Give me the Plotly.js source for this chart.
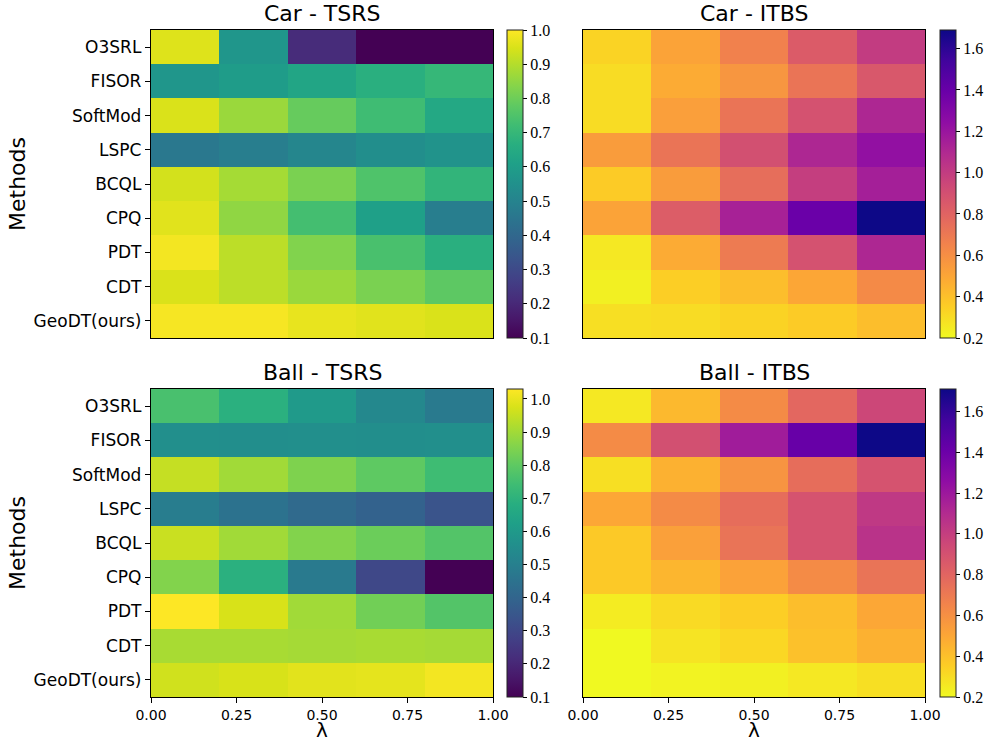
<!DOCTYPE html>
<html>
<head>
<meta charset="utf-8">
<script src="https://cdn.plot.ly/plotly-3.0.1.min.js"></script>
<style>html,body{margin:0;padding:0;background:#fff;}#chart{width:990px;height:744px;}</style>
</head>
<body>
<div id="chart"></div>
<script>
// ---- data ----
const methods = ["O3SRL","FISOR","SoftMod","LSPC","BCQL","CPQ","PDT","CDT","GeoDT(ours)"];
const lambdaCenters = [0.1, 0.3, 0.5, 0.7, 0.9];
const xTickVals = [0, 0.25, 0.5, 0.75, 1.0];
const xTickText = ["0.00","0.25","0.50","0.75","1.00"];

const carTSRS = [
  [0.955, 0.57, 0.21, 0.10, 0.10],
  [0.57, 0.595, 0.63, 0.67, 0.70],
  [0.95, 0.865, 0.79, 0.72, 0.64],
  [0.46, 0.48, 0.51, 0.54, 0.56],
  [0.94, 0.88, 0.82, 0.75, 0.69],
  [0.96, 0.85, 0.73, 0.61, 0.48],
  [0.985, 0.91, 0.83, 0.74, 0.67],
  [0.95, 0.91, 0.865, 0.82, 0.775],
  [0.99, 0.99, 0.97, 0.96, 0.95]
];
const carITBS = [
  [0.33, 0.51, 0.66, 0.84, 1.00],
  [0.30, 0.48, 0.57, 0.72, 0.86],
  [0.30, 0.53, 0.72, 0.89, 1.11],
  [0.54, 0.72, 0.90, 1.11, 1.23],
  [0.36, 0.54, 0.75, 0.99, 1.15],
  [0.51, 0.83, 1.14, 1.39, 1.69],
  [0.26, 0.48, 0.69, 0.89, 1.11],
  [0.23, 0.35, 0.41, 0.50, 0.62],
  [0.29, 0.30, 0.33, 0.36, 0.41]
];
const ballTSRS = [
  [0.76, 0.69, 0.60, 0.53, 0.48],
  [0.56, 0.555, 0.56, 0.555, 0.56],
  [0.95, 0.90, 0.85, 0.80, 0.74],
  [0.49, 0.45, 0.42, 0.39, 0.34],
  [0.955, 0.90, 0.855, 0.82, 0.78],
  [0.855, 0.69, 0.48, 0.30, 0.10],
  [1.03, 0.975, 0.90, 0.83, 0.78],
  [0.91, 0.91, 0.905, 0.91, 0.905],
  [0.965, 0.975, 0.99, 0.995, 1.015]
];
const ballITBS = [
  [0.26, 0.43, 0.62, 0.79, 0.955],
  [0.62, 0.91, 1.18, 1.42, 1.71],
  [0.29, 0.46, 0.58, 0.76, 0.89],
  [0.50, 0.62, 0.76, 0.89, 1.03],
  [0.37, 0.53, 0.73, 0.89, 1.06],
  [0.37, 0.44, 0.52, 0.62, 0.73],
  [0.245, 0.31, 0.35, 0.41, 0.50],
  [0.20, 0.275, 0.32, 0.40, 0.46],
  [0.20, 0.22, 0.23, 0.26, 0.29]
];
const titles = ["Car - TSRS", "Car - ITBS", "Ball - TSRS", "Ball - ITBS"];

// ---- colour scales ----
const plasmaHex = ["#0d0887","#41049d","#6a00a8","#8f0da4","#b12a90","#cc4778","#e16462","#f2844b","#fca636","#fcce25","#f0f921"];
const plasmaR = plasmaHex.slice().reverse().map((c, i) => [i / 10, c]);

const W = 990, H = 744;
const px = v => v / W, py = v => 1 - v / H;

const serif = "'Liberation Serif', 'Times New Roman', Times, serif";

function cb(cbx, cby, dtick) {
  return {
    thickness: 16, thicknessmode: "pixels", lenmode: "pixels", len: 308,
    xanchor: "left", yanchor: "top", xpad: 0, ypad: 0,
    x: px(cbx), y: py(cby),
    outlinewidth: 1, outlinecolor: "#222",
    ticks: "outside", ticklen: 4, tickwidth: 1, tickcolor: "#000",
    tickfont: {family: serif, size: 16, color: "#000"},
    tickformat: ".1f", tick0: dtick === 0.1 ? 0.1 : 0.2, dtick: dtick
  };
}

function hm(z, xa, ya, scale, zmin, zmax, cbx, cby, dtick) {
  return {
    type: "heatmap", z: z, x: lambdaCenters, y: methods,
    xaxis: xa, yaxis: ya, colorscale: scale, zmin: zmin, zmax: zmax,
    colorbar: cb(cbx, cby, dtick),
    hoverinfo: "z"
  };
}

const data = [
  hm(carTSRS, "x", "y", "Viridis", 0.1, 1.0, 507, 30, 0.1),
  hm(carITBS, "x2", "y2", plasmaR, 0.2, 1.69, 940, 30, 0.2),
  hm(ballTSRS, "x3", "y3", "Viridis", 0.1, 1.03, 507, 389, 0.1),
  hm(ballITBS, "x4", "y4", plasmaR, 0.2, 1.71, 940, 389, 0.2)
];

const tickFont = {family: "DejaVu Sans", size: 17, color: "#000"};
const xTickFont = {family: "DejaVu Sans", size: 14, color: "#000"};

function xa(dom, anchor, showLabels) {
  return {
    domain: dom, anchor: anchor, range: [0, 1], showgrid: false, zeroline: false,
    showline: true, mirror: true, linecolor: "#000", linewidth: 1.2,
    tickvals: xTickVals, ticktext: xTickText,
    ticks: showLabels ? "outside" : "", ticklen: 5, tickcolor: "#000",
    showticklabels: showLabels, tickfont: xTickFont
  };
}
function ya(dom, anchor, showLabels) {
  return {
    domain: dom, anchor: anchor, type: "category", autorange: "reversed",
    categoryorder: "array", categoryarray: methods,
    showgrid: false, zeroline: false,
    showline: true, mirror: true, linecolor: "#000", linewidth: 1.2,
    ticks: showLabels ? "outside" : "", ticklen: 5, tickcolor: "#000",
    showticklabels: showLabels, tickfont: tickFont
  };
}

const dxL = [px(151), px(493)], dxR = [px(583), px(925)];
const dyT = [py(338), py(30)], dyB = [py(697), py(389)];

const ann = [];
const titleFont = {family: "DejaVu Sans", size: 22, color: "#000"};
[[322, 14, titles[0]], [754, 14, titles[1]], [322, 372, titles[2]], [754, 372, titles[3]]].forEach(t => {
  ann.push({text: t[2], x: px(t[0]), y: py(t[1]), xref: "paper", yref: "paper",
    xanchor: "center", yanchor: "middle", showarrow: false, font: titleFont});
});
[[184], [543]].forEach(t => {
  ann.push({text: "Methods", x: px(17), y: py(t[0]), xref: "paper", yref: "paper",
    xanchor: "center", yanchor: "middle", textangle: -90, showarrow: false, font: titleFont});
});
[[322], [754]].forEach(t => {
  ann.push({text: "λ", x: px(t[0]), y: 0, xref: "paper", yref: "paper",
    xanchor: "center", yanchor: "bottom", showarrow: false, font: {family: "DejaVu Sans", size: 20, color: "#000"}});
});

const layout = {
  width: W, height: H, margin: {l: 0, r: 0, t: 0, b: 0},
  paper_bgcolor: "#fff", plot_bgcolor: "#fff", showlegend: false,
  xaxis: xa(dxL, "y", false), yaxis: ya(dyT, "x", true),
  xaxis2: xa(dxR, "y2", false), yaxis2: ya(dyT, "x2", false),
  xaxis3: xa(dxL, "y3", true), yaxis3: ya(dyB, "x3", true),
  xaxis4: xa(dxR, "y4", true), yaxis4: ya(dyB, "x4", false),
  annotations: ann
};

Plotly.newPlot("chart", data, layout, {displayModeBar: false, staticPlot: true});
</script>
</body>
</html>
